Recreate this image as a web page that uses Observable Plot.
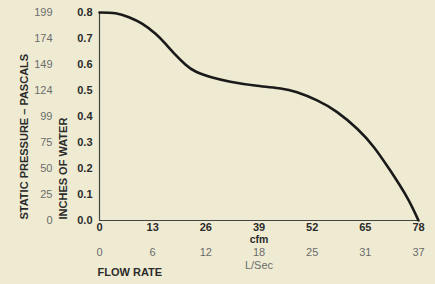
<!DOCTYPE html>
<html>
<head>
<meta charset="utf-8">
<script src="https://cdn.jsdelivr.net/npm/d3@7"></script>
<script src="https://cdn.jsdelivr.net/npm/@observablehq/plot@0.6"></script>
<style>
  html, body { margin: 0; padding: 0; background: #efebd3; }
  #chart svg { display: block; }
</style>
</head>
<body>
<div id="chart"></div>
<script>
// Curve: flow rate (cfm) vs static pressure (inches of water)
const cfm = [0, 3.9, 7.2, 10.4, 13.7, 16.1, 18.6, 21.0, 23.5, 27.6, 32.0, 38.5, 44.3, 48.3, 53.2, 58.1, 63.0, 67.1, 71.1, 75.2, 78];
const inches = [0.8, 0.797, 0.782, 0.757, 0.718, 0.68, 0.637, 0.600, 0.573, 0.550, 0.534, 0.518, 0.508, 0.493, 0.462, 0.417, 0.353, 0.282, 0.192, 0.089, 0.0];

const cfmTicks = [0, 13, 26, 39, 52, 65, 78];
const lsecTicks = [0, 6, 12, 18, 25, 31, 37];
const inchTicks = [0, 0.1, 0.2, 0.3, 0.4, 0.5, 0.6, 0.7, 0.8];
const pascalTicks = [0, 25, 50, 75, 99, 124, 149, 174, 199];

const data = cfm.map((x, i) => ({x, y: inches[i]}));
const FONT = "'Liberation Sans Narrow', 'Liberation Sans', Arial, sans-serif";
const DARK = "#2b2b2b";
const GRAY = "#6b6b6b";

const chart = Plot.plot({
  width: 435,
  height: 284,
  marginLeft: 99,
  marginRight: 17,
  marginTop: 12,
  marginBottom: 64,
  style: {background: "#efebd3", fontFamily: FONT, fontSize: "11px"},
  x: {domain: [0, 78]},
  y: {domain: [0, 0.8]},
  marks: [
    Plot.ruleX([0], {stroke: "#444", strokeWidth: 1.2}),
    Plot.ruleY([0], {stroke: "#444", strokeWidth: 1.2}),
    // inches of water axis (bold)
    Plot.axisY(inchTicks, {tickSize: 0, tickPadding: 7, tickFormat: d3.format(".1f"),
      fontWeight: "bold", fill: DARK, label: null}),
    // pascals axis (gray)
    Plot.axisY(inchTicks, {tickSize: 0, tickPadding: 47, tickFormat: (d, i) => pascalTicks[i],
      fill: GRAY, label: null}),
    // cfm axis (bold)
    Plot.axisX(cfmTicks, {tickSize: 0, tickPadding: 3, tickFormat: d => d,
      fontWeight: "bold", fill: DARK, label: null}),
    // L/Sec axis (gray)
    Plot.axisX(cfmTicks, {tickSize: 0, tickPadding: 28, tickFormat: (d, i) => lsecTicks[i],
      fill: GRAY, label: null}),
    Plot.text(["cfm"], {x: [39], frameAnchor: "bottom", dy: 22, text: d => d,
      fontWeight: "bold", fill: DARK, fontSize: 10.5}),
    Plot.text(["L/Sec"], {x: [39], frameAnchor: "bottom", dy: 48, text: d => d, fill: GRAY}),
    Plot.text(["FLOW RATE"], {frameAnchor: "bottom-left", textAnchor: "start", dx: -2, dy: 55,
      text: d => d, fontWeight: "bold", fill: DARK}),
    Plot.text(["INCHES OF WATER"], {frameAnchor: "bottom-left", rotate: -90, textAnchor: "start",
      dx: -33, dy: -1, text: d => d, fontWeight: "bold", fill: DARK}),
    Plot.text(["STATIC PRESSURE – PASCALS"], {frameAnchor: "bottom-left", rotate: -90, textAnchor: "start",
      dx: -72, dy: -1, text: d => d, fontWeight: "bold", fill: DARK}),
    Plot.line(data, {x: "x", y: "y", curve: "natural", stroke: "#1a1a1a", strokeWidth: 2.6})
  ]
});
document.getElementById("chart").appendChild(chart);
</script>
</body>
</html>
